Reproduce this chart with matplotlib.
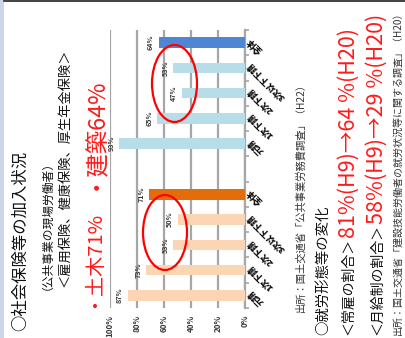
import matplotlib
matplotlib.use("Agg")
import matplotlib.pyplot as plt
from matplotlib.patches import Ellipse, Rectangle
from matplotlib.lines import Line2D
from matplotlib.ticker import FixedLocator

plt.rcParams['font.family'] = ['Noto Sans CJK JP', 'DejaVu Sans']

# ---- data ----
categories = ["全体", "3次以下下請", "2次下請", "1次下請", "元請"]
kenchiku = [64, 53, 47, 65, 93]      # 建築 (%)
doboku = [71, 50, 53, 73, 87]        # 土木 (%)
pct_ticks = [0, 20, 40, 60, 80, 100]
pct_labels = ["0%", "20%", "40%", "60%", "80%", "100%"]

W, H = 406, 338
fig = plt.figure(figsize=(W / 100, H / 100), dpi=100)
fig.patch.set_facecolor("white")

# frame of the slide
fig.patches.append(Rectangle((0, 0), 4 / W, 1, transform=fig.transFigure,
                             facecolor="#c9d7e6", edgecolor="none"))
fig.lines.append(Line2D([4 / W, 1], [1 - 1 / H, 1 - 1 / H], transform=fig.transFigure,
                        color="#222222", lw=1.2))

# ---- bar chart (value axis runs right-to-left, categories top-to-bottom) ----
ax = fig.add_axes([110 / W, 1 - 308 / H, 135 / W, 278 / H])
pos_k = list(range(0, 5))
pos_d = list(range(6, 11))
col_k = ["#4f86d4"] + ["#b7dde8"] * 4
col_d = ["#e46c0a"] + ["#fcd5b5"] * 4

ax.barh(pos_k, kenchiku, height=0.42, color=col_k, zorder=3)
ax.barh(pos_d, doboku, height=0.42, color=col_d, zorder=3)

for p, v in list(zip(pos_k, kenchiku)) + list(zip(pos_d, doboku)):
    ax.annotate(f"{v}%", (v, p), xytext=(-3.5, 0), textcoords="offset points",
                rotation=90, ha="right", va="center", fontsize=5.2,
                fontweight="bold", color="#3a3a3a", zorder=4)

ax.set_xlim(100, 0)
ax.set_ylim(10.5, -0.5)
ax.set_xticks(pct_ticks, pct_labels)
for lbl in ax.get_xticklabels():
    lbl.set_rotation(90)
    lbl.set_fontsize(5.8)
    lbl.set_fontweight("bold")
    lbl.set_color("#3a3a3a")
ax.tick_params(axis="x", length=0, pad=5)
ax.grid(axis="x", color="#a6a6a6", lw=1.6, zorder=0)

ax.yaxis.tick_right()
ax.set_yticks([])
ax.yaxis.set_minor_locator(FixedLocator([i - 0.5 for i in range(12)]))
ax.tick_params(axis="y", which="minor", right=True, left=False, length=3,
               color="#a6a6a6", width=1.2)

for s in ["top", "left", "bottom"]:
    ax.spines[s].set_visible(False)
ax.spines["right"].set_color("#a6a6a6")
ax.spines["right"].set_linewidth(1.6)

for p, name in list(zip(pos_k, categories)) + list(zip(pos_d, categories)):
    ax.annotate(name, (1.0, p), xycoords=("axes fraction", "data"),
                xytext=(3, 3), textcoords="offset points",
                rotation=135, rotation_mode="anchor", ha="right", va="center",
                fontsize=6.4, fontweight="heavy", color="#111111")

# red ellipses around the lower subcontract tiers
for cx, cy, ew, eh in [(174.5, 83.5, 45, 77), (165, 232.5, 44, 75)]:
    fig.patches.append(Ellipse((cx / W, 1 - cy / H), ew / W, eh / H,
                               transform=fig.transFigure, facecolor="none",
                               edgecolor="#ff0000", lw=1.6, zorder=10))

# ---- vertical text runs ----
renderer = fig.canvas.get_renderer()


def vrun(x_px, y_px, runs):
    y = y_px
    for s, color, size, weight in runs:
        t = fig.text(x_px / W, 1 - y / H, s, rotation=90, rotation_mode="anchor",
                     ha="left", va="center", color=color, fontsize=size,
                     fontweight=weight)
        y -= t.get_window_extent(renderer=renderer).height


BLK, RED = "#111111", "#ff1a1a"
vrun(20, 331, [("○社会保険等の加入状況", BLK, 11.8, "normal")])
vrun(41, 290, [("（公共事業の現場労働者）", BLK, 8.5, "normal")])
vrun(65, 287, [("＜雇用保険、健康保険、厚生年金保険＞", BLK, 9.5, "normal")])
vrun(90, 308, [("・土木71%", RED, 14.5, "normal")])
vrun(91, 190, [("・建築64%", RED, 16.8, "normal")])
vrun(300, 312, [("出所：国土交通省「公共事業労務費調査」（H22）", "#333333", 7.4, "normal")])
vrun(323, 335, [("○就労形態等の変化", BLK, 10.4, "normal")])
vrun(349, 335, [("＜常雇の割合＞", BLK, 10, "normal"),
                ("81%(H9)→64 %(H20)", RED, 15.5, "normal")])
vrun(377, 335, [("＜月給制の割合＞", BLK, 10, "normal"),
                ("58%(H9)→29 %(H20)", RED, 15.5, "normal")])
vrun(398, 335, [("出所：国土交通省「建設技能労働者の就労状況等に関する調査」（H20）", "#333333", 7.2, "normal")])

fig.savefig("out.png", dpi=100, facecolor="white")
